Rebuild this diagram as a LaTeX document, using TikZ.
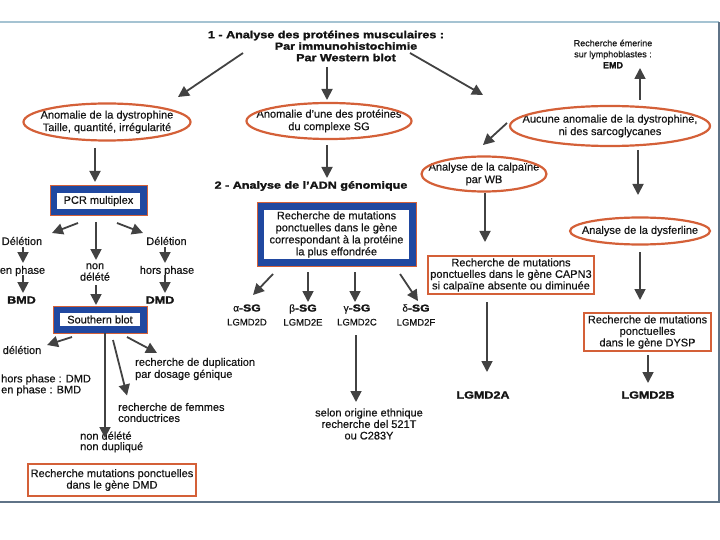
\documentclass[tikz,border=0pt]{standalone}
\usepackage{fontspec}
\setmainfont{Liberation Sans}[UprightFeatures={FakeBold=0.5}, BoldFeatures={FakeBold=1.8}]
\usepackage{graphicx}
\usetikzlibrary{arrows.meta}
\definecolor{ellor}{RGB}{212,96,56}
\definecolor{bandblue}{RGB}{32,72,160}
\definecolor{arrgray}{RGB}{66,66,66}
\definecolor{inkc}{RGB}{20,20,20}
\definecolor{frametop}{RGB}{165,195,210}
\definecolor{framebot}{RGB}{95,115,135}
\newcommand{\bx}[1]{\scalebox{1.22}[1]{\bfseries #1}}
\begin{document}
\begin{tikzpicture}[x=1pt,y=-1pt,
  txt/.style={inner sep=0pt, align=center, text=inkc, font=\fontsize{11}{12.5}\selectfont},
  stxt/.style={inner sep=0pt, align=center, text=inkc, font=\fontsize{11}{11.5}\selectfont},
  ltxt/.style={inner sep=0pt, align=left, anchor=west, text=inkc, font=\fontsize{11}{11}\selectfont},
  btxt/.style={inner sep=0pt, align=center, text=inkc, font=\fontsize{10.3}{11.5}\selectfont},
  sglab/.style={inner sep=0pt, align=center, text=inkc, font=\fontsize{9.5}{14}\selectfont},
  ellline/.style={draw=ellor, line width=2.2pt},
  obox/.style={draw=ellor, line width=2.2pt, fill=white, inner sep=0pt, align=center, text=inkc, font=\fontsize{11}{11.5}\selectfont},
  bbox/.style={draw=bandblue, line width=7pt, fill=white, inner sep=0pt, align=center, text=inkc, font=\fontsize{11}{12}\selectfont},
  bedge/.style={draw=ellor, line width=1pt},
  arr/.style={draw=arrgray, line width=1.8pt, -{Triangle[length=11pt,width=11pt]}}]
\useasboundingbox (0,0) rectangle (720,540);
% frame
\draw[frametop, line width=1.2pt] (0,22) -- (719,22);
\draw[framebot, line width=1.5pt] (0,502) -- (719,502) -- (719,22);

% titles
\node[btxt] (t1) at (326,46) {\bx{1 - Analyse des protéines musculaires :}\\ \hspace*{40pt}\bx{Par immunohistochimie}\\ \hspace*{40pt}\bx{Par Western blot}};
\node[btxt] (t2) at (311,186) {\bx{2 - Analyse de l'ADN génomique}};
\node[inner sep=0pt, align=center, text=inkc, font=\fontsize{9}{11}\selectfont] (emd) at (613,54) {Recherche émerine\\sur lymphoblastes :\\\textbf{EMD}};

% ellipses
\node[txt] (e1) at (107,122) {Anomalie de la dystrophine\\Taille, quantité, irrégularité};
\draw[ellline] (e1.center) ellipse [x radius=83.5pt, y radius=18.5pt];
\node[txt] (e2) at (329,121) {Anomalie d'une des protéines\\du complexe SG};
\draw[ellline] (e2.center) ellipse [x radius=82.5pt, y radius=18pt];
\node[txt] (e3) at (610,126) {Aucune anomalie de la dystrophine,\\ni des sarcoglycanes};
\draw[ellline] (e3.center) ellipse [x radius=100pt, y radius=20pt];
\node[txt] (e4) at (484,174) {Analyse de la calpaïne\\par WB};
\draw[ellline] (e4.center) ellipse [x radius=62.5pt, y radius=17.5pt];
\node[txt] (e5) at (640,231) {Analyse de la dysferline};
\draw[ellline] (e5.center) ellipse [x radius=70pt, y radius=13.5pt];

% blue boxes
\node[bbox, minimum width=90pt, minimum height=23pt] (pcr) at (98.5,201) {PCR multiplex};
\draw[bedge] (pcr.north west) rectangle (pcr.south east);
\node[bbox, minimum width=87pt, minimum height=20pt] (sb) at (100,319.5) {Southern blot};
\draw[bedge] (sb.north west) rectangle (sb.south east);
\node[bbox, minimum width=152pt, minimum height=56pt] (cb) at (336.5,234.5) {Recherche de mutations\\ponctuelles dans le gène\\correspondant à la protéine\\la plus effondrée};
\draw[bedge] (cb.north west) rectangle (cb.south east);

% orange boxes
\node[obox, minimum width=166pt, minimum height=38pt] (capn) at (511,275) {Recherche de mutations\\ponctuelles dans le gène CAPN3\\si calpaïne absente ou diminuée};
\node[obox, minimum width=127pt, minimum height=38pt] (dysp) at (647.5,332) {Recherche de mutations\\ponctuelles\\dans le gène DYSP};
\node[obox, minimum width=168pt, minimum height=32pt] (dmdbox) at (112,480) {Recherche mutations ponctuelles\\dans le gène DMD};

% left branch labels
\node[txt] (del1) at (22,241) {Délétion};
\node[txt] (del2) at (166.5,241) {Délétion};
\node[txt] (enph) at (22.5,271) {en phase};
\node[txt] (horsph) at (167,271) {hors phase};
\node[stxt] (nondel) at (95,272) {non\\délété};
\node[btxt] (bmd) at (21.5,300) {\bx{BMD}};
\node[btxt] (dmd) at (160,300) {\bx{DMD}};
\node[txt] (deln) at (22,350) {délétion};
\node[ltxt] (hp) at (1,385) {hors phase : DMD\\en phase : BMD};
\node[ltxt, font=\fontsize{11}{12}\selectfont] (dup) at (135,369) {recherche de duplication\\par dosage génique};
\node[ltxt] (fem) at (118,412.5) {recherche de femmes\\conductrices};
\node[ltxt, font=\fontsize{11}{10.5}\selectfont] (nondup) at (80,442) {non délété\\non dupliqué};

% SG labels
\node[sglab] (sga) at (247,315) {{\fontsize{10}{14}\selectfont α\bx{-SG}}\\LGMD2D};
\node[sglab] (sgb) at (303,315) {{\fontsize{10}{14}\selectfont β\bx{-SG}}\\LGMD2E};
\node[sglab] (sgg) at (357,315) {{\fontsize{10}{14}\selectfont γ\bx{-SG}}\\LGMD2C};
\node[sglab] (sgd) at (416,315) {{\fontsize{10}{14}\selectfont δ\bx{-SG}}\\LGMD2F};
\node[stxt] (ethn) at (369,424) {selon origine ethnique\\recherche del 521T\\ou C283Y};
\node[btxt] (l2a) at (483,395) {\bx{LGMD2A}};
\node[btxt] (l2b) at (648,395) {\bx{LGMD2B}};

% arrows
\draw[arr] ([shift={(-83,7)}]t1.center) -- ([shift={(71,-25)}]e1.center);
\draw[arr] ([shift={(1,21)}]t1.center) -- ([shift={(-2,-21)}]e2.center);
\draw[arr] ([shift={(84,7)}]t1.center) -- ([shift={(-127,-31)}]e3.center);
\draw[arr] ([shift={(30,-26)}]e3.center) -- ([shift={(27,14)}]emd.center);
\draw[arr] ([shift={(-103,-3)}]e3.center) -- ([shift={(-1,-29)}]e4.center);
\draw[arr] ([shift={(28,24)}]e3.center) -- ([shift={(-2,-36)}]e5.center);
\draw[arr] ([shift={(1,19)}]e4.center) -- ([shift={(-26,-33)}]capn.center);
\draw[arr] ([shift={(-24,27)}]capn.center) -- ([shift={(4,-23)}]l2a.center);
\draw[arr] ([shift={(0,21)}]e5.center) -- ([shift={(-7.5,-32)}]dysp.center);
\draw[arr] ([shift={(0.5,23)}]dysp.center) -- ([shift={(0,-12)}]l2b.center);
\draw[arr] ([shift={(-2,24)}]e2.center) -- ([shift={(16,-8)}]t2.center);
\draw[arr] ([shift={(-12,26)}]e1.center) -- ([shift={(-3.5,-19)}]pcr.center);
\draw[arr] ([shift={(-20.5,22)}]pcr.center) -- ([shift={(30,-8)}]del1.center);
\draw[arr] ([shift={(-2.5,21)}]pcr.center) -- ([shift={(1,-12)}]nondel.center);
\draw[arr] ([shift={(18.5,22)}]pcr.center) -- ([shift={(-23.5,-8)}]del2.center);
\draw[arr] ([shift={(1,6)}]del1.center) -- ([shift={(0.5,-8)}]enph.center);
\draw[arr] ([shift={(0.5,4)}]enph.center) -- ([shift={(1.5,-7)}]bmd.center);
\draw[arr] ([shift={(-1.5,6)}]del2.center) -- ([shift={(-2,-8)}]horsph.center);
\draw[arr] ([shift={(-2,4)}]horsph.center) -- ([shift={(5,-7)}]dmd.center);
\draw[arr] ([shift={(1,13)}]nondel.center) -- ([shift={(-4,-14.5)}]sb.center);
\draw[arr] ([shift={(-28,17.5)}]sb.center) -- ([shift={(25,-5)}]deln.center);
\draw[arr] ([shift={(27,17.5)}]sb.center) -- ([shift={(22,-16)}]dup.west);
\draw[arr] ([shift={(13,20.5)}]sb.center) -- ([shift={(9,-17)}]fem.west);
\draw[arr] ([shift={(5,13.5)}]sb.center) -- ([shift={(25,-4)}]nondup.west);
\draw[arr] ([shift={(-63.5,39.5)}]cb.center) -- ([shift={(6,-20)}]sga.center);
\draw[arr] ([shift={(-28.5,37.5)}]cb.center) -- ([shift={(5,-13)}]sgb.center);
\draw[arr] ([shift={(18.5,37.5)}]cb.center) -- ([shift={(-2,-13)}]sgg.center);
\draw[arr] ([shift={(63.5,39.5)}]cb.center) -- ([shift={(2,-14)}]sgd.center);
\draw[arr] ([shift={(-1,20)}]sgg.center) -- ([shift={(-13,-22)}]ethn.center);
\end{tikzpicture}
\end{document}
